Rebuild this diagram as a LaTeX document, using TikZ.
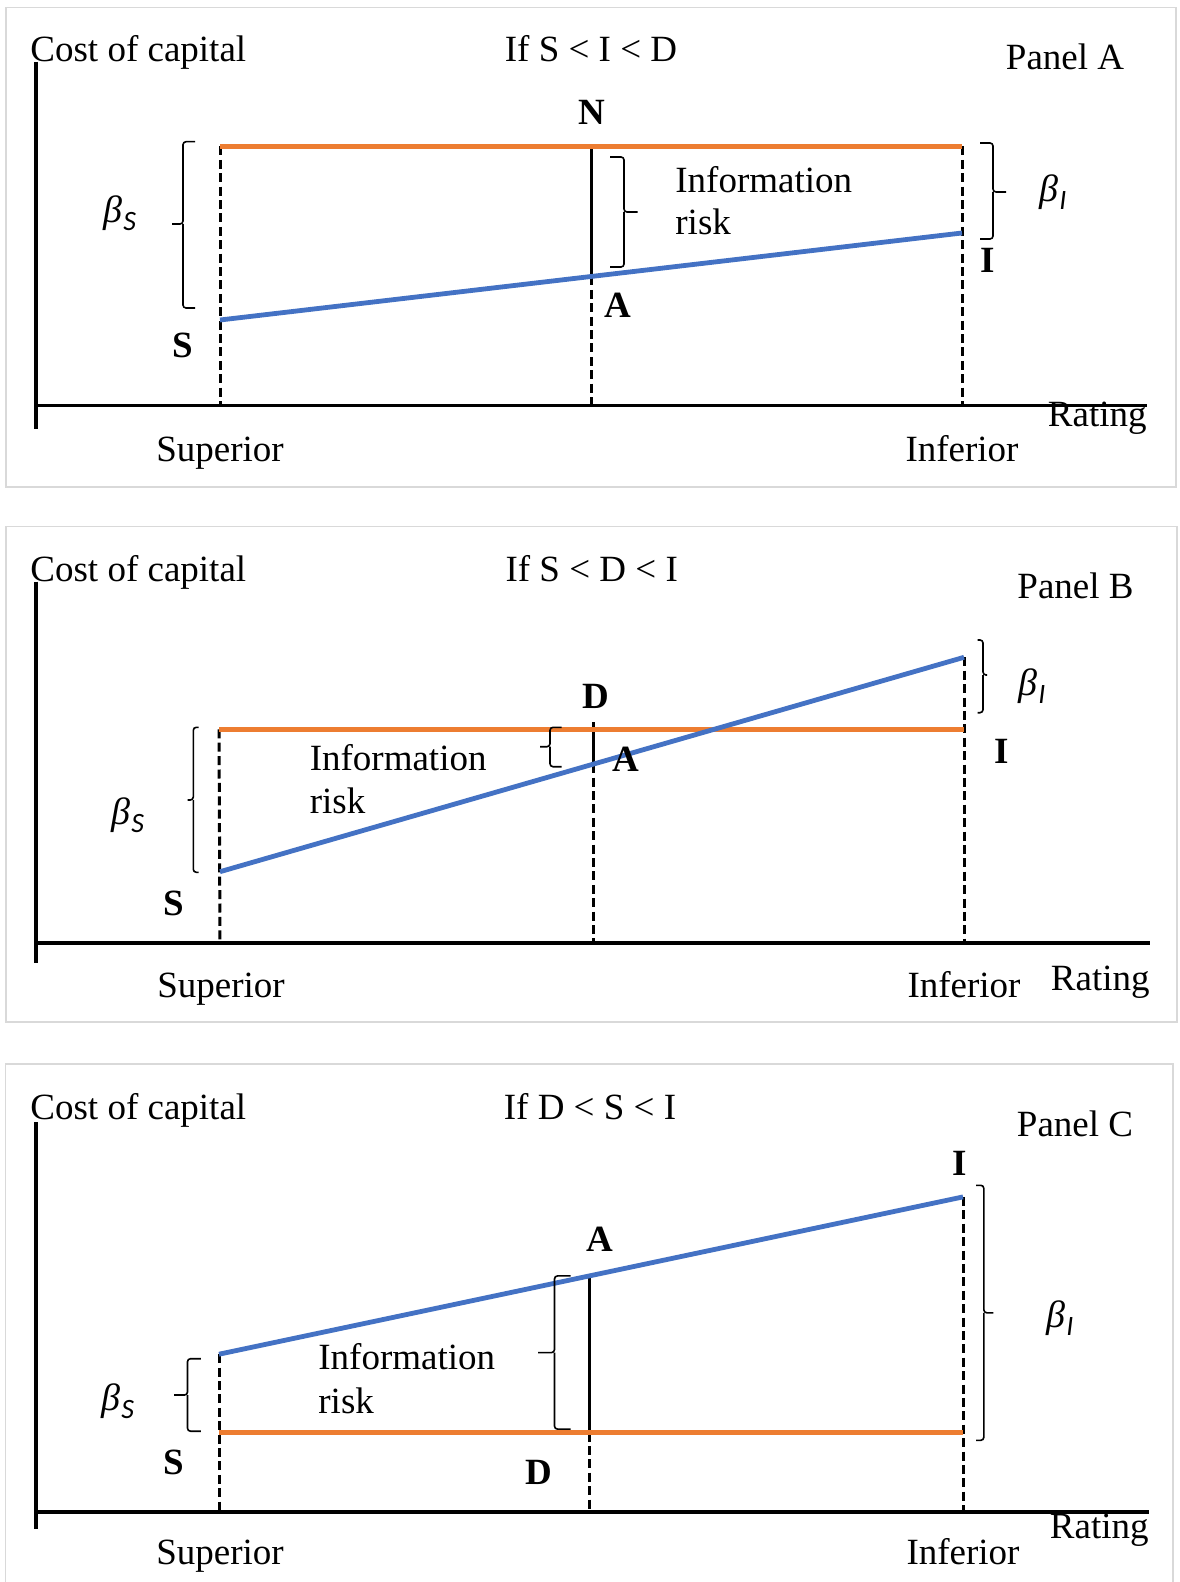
\documentclass[tikz,border=0pt]{standalone}
\usepackage{fontspec}
\setmainfont{Liberation Serif}
\newfontfamily\carl{Carlito}
\definecolor{orng}{HTML}{ED7D31}
\definecolor{blu}{HTML}{4472C4}
\definecolor{frm}{HTML}{D9D9D9}
\newcommand\bsub[1]{\textit{β}\kern0.3pt\raisebox{-0.45ex}{\carl\itshape\fontsize{14}{14}\selectfont #1}}
\newcommand\mybrace[6]{%
  \draw[brc] (#4,#2) -- (#1,#2) -- (#1,#6) -- (#5,#6);
  \draw[brc] (#1,#6) -- (#1,#3) -- (#4,#3);}
\tikzset{
 axisl/.style={line width=1.9pt},
 dashv/.style={line width=1.5pt, dash pattern=on 4.5pt off 2.2pt},
 solidv/.style={line width=1.5pt},
 orl/.style={orng, line width=2.4pt},
 bll/.style={blu, line width=2.4pt},
 brc/.style={line width=0.8pt, rounded corners=1.5pt},
 frameb/.style={frm, line width=0.8pt},
 lbl/.style={font=\fontsize{18.5}{20}\selectfont, inner sep=0pt, anchor=base},
 bold/.style={font=\fontsize{18.5}{20}\selectfont\bfseries, inner sep=0pt, anchor=base},
 beta/.style={inner sep=0pt, font=\fontsize{19}{20}\selectfont}
}
\begin{document}
\begin{tikzpicture}[x=0.5pt,y=-0.5pt]
\useasboundingbox (0,0) rectangle (1179,1582);
\fill[white] (0,0) rectangle (1179,1582);

% ================= Panel A =================
\draw[frameb] (6,7.5) rectangle (1176,487);
\coordinate (aY0) at (36,62);
\coordinate (aY1) at (36,429);
\coordinate (aX0) at (36,405.5);
\coordinate (aX1) at (1147,405.5);
\coordinate (aOL) at (220,146.5);
\coordinate (aOR) at (962,146.5);
\coordinate (aBL) at (220,320);
\coordinate (aBR) at (962,233);
\coordinate (aOM) at (591,146.5);
\coordinate (aBM) at (591,276.5);
\coordinate (aL0) at (220,405.5);
\coordinate (aM0) at (591,405.5);
\coordinate (aR0) at (962,405.5);
\draw[dashv] (aOL) -- (aL0);
\draw[dashv] (aBM) -- (aM0);
\draw[dashv] (aOR) -- (aR0);
\draw[solidv] (aOM) -- (aBM);
\draw[orl] (aOL) -- (aOR);
\draw[bll] (aBL) -- (aBR);
\draw[axisl] (aY0) -- (aY1);
\draw[axisl] (aX0) -- (aX1);
\mybrace{183}{141.7}{308}{195}{172}{224}
\mybrace{624}{157}{267}{610}{637.5}{212}
\mybrace{993}{143}{239}{980}{1006}{192}
\node[lbl, anchor=base west] (aCost) at (30,61.5) {Cost of capital};
\node[lbl] (aIf) at (591,61.5) {If S < I < D};
\node[lbl] (aPan) at (1065,70) {Panel A};
\node[bold] (aN) at (592,125) {N};
\node[beta] (aBS) at (120,213) {\bsub{S}};
\node[bold] (aS) at (183,358) {S};
\node[lbl, anchor=base west] (aInf1) at (675,193) {Information};
\node[lbl, anchor=base west] (aInf2) at (675,235) {risk};
\node[beta] (aBI) at (1053,192) {\bsub{I}};
\node[bold] (aI) at (988,273) {I};
\node[bold] (aA) at (618,318) {A};
\node[lbl] (aSup) at (220,461.7) {Superior};
\node[lbl] (aInfr) at (962,461.7) {Inferior};
\node[lbl, anchor=base east] (aRat) at (1147,426.7) {Rating};

% ================= Panel B =================
\draw[frameb] (6,526.7) rectangle (1177,1021.7);
\coordinate (bY0) at (36,581.7);
\coordinate (bY1) at (36,963);
\coordinate (bX0) at (36,942.7);
\coordinate (bX1) at (1150,942.7);
\coordinate (bOL) at (219,729.3);
\coordinate (bOR) at (964,729.3);
\coordinate (bBL) at (220,871.7);
\coordinate (bBR) at (964,657.3);
\coordinate (bMT) at (593,722);
\coordinate (bBM) at (593,764.2);
\coordinate (bL0) at (220,942.7);
\coordinate (bM0) at (593,942.7);
\coordinate (bR0) at (964,942.7);
\draw[dashv] (bOL) -- (bL0);
\draw[dashv] (bBM) -- (bM0);
\draw[dashv] (bBR) -- (bR0);
\draw[solidv] (bMT) -- (bBM);
\draw[orl] (bOL) -- (bOR);
\draw[bll] (bBL) -- (bBR);
\draw[axisl] (bY0) -- (bY1);
\draw[axisl] (bX0) -- (bX1);
\mybrace{193.3}{727.3}{872.3}{198.7}{187.5}{800}
\mybrace{550}{727.3}{766.7}{561.6}{540}{746.7}
\mybrace{983}{640}{712.7}{977.7}{987}{675}
\node[lbl, anchor=base west] (bCost) at (30,581.7) {Cost of capital};
\node[lbl] (bIf) at (591.7,581.7) {If S < D < I};
\node[lbl] (bPan) at (1075.5,598.3) {Panel B};
\node[bold] (bD) at (595.5,708) {D};
\node[beta] (bBS) at (128,815) {\bsub{S}};
\node[bold] (bS) at (174,915) {S};
\node[lbl, anchor=base west] (bInf1) at (309.4,770) {Information};
\node[lbl, anchor=base west] (bInf2) at (309.4,813.3) {risk};
\node[bold] (bA) at (626,771.7) {A};
\node[beta] (bBI) at (1032,686) {\bsub{I}};
\node[bold] (bI) at (1002,763.3) {I};
\node[lbl] (bSup) at (221,997.3) {Superior};
\node[lbl] (bInfr) at (964,997.3) {Inferior};
\node[lbl, anchor=base east] (bRat) at (1150,990) {Rating};

% ================= Panel C =================
\draw[frameb] (5.5,1582) -- (5.5,1064) -- (1173,1064) -- (1173,1582);
\coordinate (cY0) at (36,1122.4);
\coordinate (cY1) at (36,1528.7);
\coordinate (cX0) at (36,1511.7);
\coordinate (cX1) at (1149,1511.7);
\coordinate (cOL) at (219,1432.5);
\coordinate (cOR) at (963,1432.5);
\coordinate (cBL) at (219,1354.2);
\coordinate (cBR) at (963,1196.9);
\coordinate (cBM) at (589.4,1275.9);
\coordinate (cOM) at (589.4,1432.5);
\coordinate (cL0) at (219.6,1511.7);
\coordinate (cLT) at (219.6,1354.2);
\coordinate (cM0) at (589.4,1511.7);
\coordinate (cR0) at (963,1511.7);
\draw[dashv] (cLT) -- (cL0);
\draw[dashv] (cOM) -- (cM0);
\draw[dashv] (cBR) -- (cR0);
\draw[solidv] (cBM) -- (cOM);
\draw[orl] (cOL) -- (cOR);
\draw[bll] (cBL) -- (cBR);
\draw[axisl] (cY0) -- (cY1);
\draw[axisl] (cX0) -- (cX1);
\mybrace{554.5}{1275.9}{1429.1}{570.5}{538}{1352.6}
\mybrace{187.5}{1358.7}{1431.2}{200.9}{174}{1395}
\mybrace{983.8}{1185.3}{1440.3}{976}{993.4}{1312.8}
\node[lbl, anchor=base west] (cCost) at (30,1119) {Cost of capital};
\node[lbl] (cIf) at (590,1119) {If D < S < I};
\node[lbl] (cPan) at (1075,1136) {Panel C};
\node[bold] (cI) at (960,1175.1) {I};
\node[bold] (cA) at (600,1251.6) {A};
\node[lbl, anchor=base west] (cInf1) at (318,1369.5) {Information};
\node[lbl, anchor=base west] (cInf2) at (318,1413.1) {risk};
\node[beta] (cBS) at (118,1400.9) {\bsub{S}};
\node[bold] (cS) at (173.6,1474.3) {S};
\node[bold] (cD) at (538.6,1484.5) {D};
\node[beta] (cBI) at (1060,1318.2) {\bsub{I}};
\node[lbl] (cSup) at (220,1564.4) {Superior};
\node[lbl] (cInfr) at (963,1564.4) {Inferior};
\node[lbl, anchor=base east] (cRat) at (1149,1538.9) {Rating};
\end{tikzpicture}
\end{document}
